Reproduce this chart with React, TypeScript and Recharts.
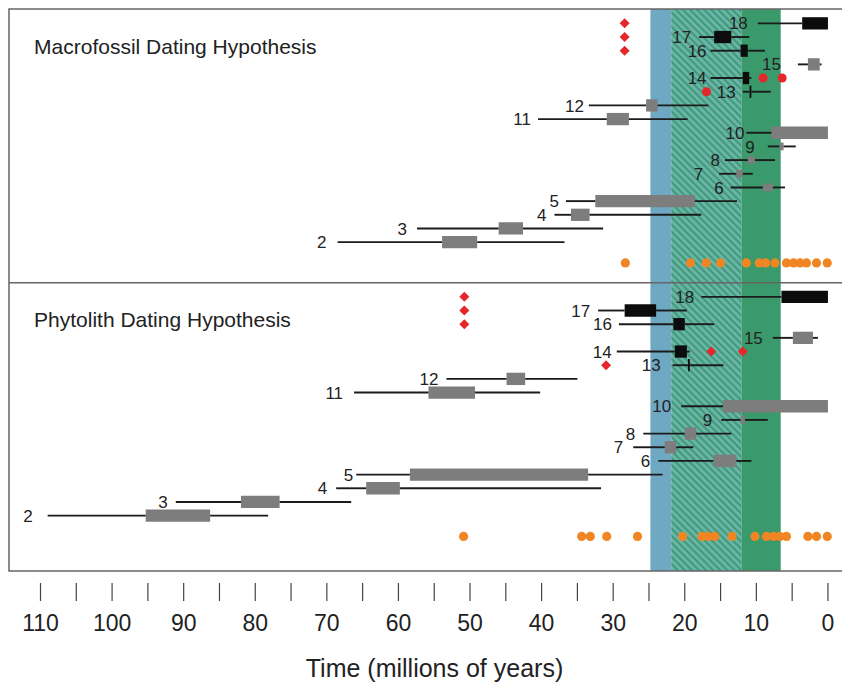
import { ComposedChart, XAxis, YAxis, Scatter, ReferenceArea, ReferenceLine } from "recharts";

// time axis runs from old (left) to present (right), in millions of years
const X_MIN = -2.8;
const X_MAX = 114.4;
const Y_MIN = -0.05;
const Y_MAX = 41.05;

const timeTicks = [0, 5, 10, 15, 20, 25, 30, 35, 40, 45, 50, 55, 60, 65, 70, 75, 80, 85, 90, 95, 100, 105, 110];
const labelledTicks = [0, 10, 20, 30, 40, 50, 60, 70, 80, 90, 100, 110];

const panelTitles = ["Macrofossil Dating Hypothesis", "Phytolith Dating Hypothesis"];

// shaded time windows [older, younger]
const blueBand = [24.8, 21.9];
const hatchBand = [21.9, 12.1];
const greenBand = [12.1, 6.6];

// [node, range older, range younger, estimate older, estimate younger, dark]
type Row = [number, number, number, number, number, boolean];

const macroRows: Row[] = [
  [18, 9.8, 0, 3.6, 0, true],
  [17, 18.0, 11.0, 15.9, 13.5, true],
  [16, 16.4, 8.8, 12.2, 11.2, true],
  [15, 4.2, 0.9, 2.8, 1.15, false],
  [14, 16.4, 10.7, 11.9, 11.0, true],
  [13, 11.9, 8.0, 10.95, 10.7, true],
  [12, 33.4, 16.7, 25.4, 23.8, false],
  [11, 40.5, 19.6, 30.9, 27.8, false],
  [10, 11.4, 0, 7.9, 0, false],
  [9, 8.4, 4.5, 6.8, 6.2, false],
  [8, 14.4, 7.4, 11.2, 10.2, false],
  [7, 15.2, 10.5, 12.8, 11.9, false],
  [6, 13.6, 6.0, 9.1, 7.7, false],
  [5, 36.6, 12.7, 32.5, 18.6, false],
  [4, 38.2, 17.7, 35.9, 33.3, false],
  [3, 57.4, 31.4, 46.0, 42.6, false],
  [2, 68.5, 36.8, 53.9, 49.0, false],
];

const phytoRows: Row[] = [
  [18, 17.7, 0, 6.5, 0, true],
  [17, 32.1, 19.7, 28.4, 24.0, true],
  [16, 29.2, 15.9, 21.6, 20.0, true],
  [15, 7.7, 1.4, 4.9, 2.1, false],
  [14, 29.5, 19.3, 21.4, 19.7, true],
  [13, 21.7, 14.6, 19.55, 19.3, true],
  [12, 53.3, 35.0, 44.9, 42.3, false],
  [11, 66.2, 40.2, 55.8, 49.3, false],
  [10, 20.5, 0, 14.65, 0, false],
  [9, 14.9, 8.4, 12.2, 11.6, false],
  [8, 25.8, 13.5, 20.0, 18.4, false],
  [7, 27.2, 18.8, 22.8, 21.2, false],
  [6, 23.7, 10.7, 16.0, 12.8, false],
  [5, 65.9, 23.1, 58.4, 33.5, false],
  [4, 68.7, 31.7, 64.5, 59.8, false],
  [3, 91.1, 66.6, 82.0, 76.6, false],
  [2, 109.0, 78.2, 95.3, 86.3, false],
];

// orange dots along the bottom of each panel
const macroOrange = [28.3, 19.2, 17.0, 15.0, 11.4, 9.6, 8.7, 7.4, 5.8, 4.8, 3.9, 3.0, 1.6, 0.1];
const phytoOrange = [50.9, 34.4, 33.2, 30.9, 26.6, 20.3, 17.6, 16.7, 15.8, 13.4, 10.2, 8.6, 7.6, 6.7, 5.8, 2.8, 1.6, 0.1];

// red markers [time, node row]
const macroDiamonds = [[28.4, 18], [28.4, 17], [28.4, 16]];
const macroRedDots = [[9.06, 14], [6.4, 14], [16.97, 13]];
const phytoDiamonds = [[50.8, 18], [50.8, 17], [50.8, 16], [16.3, 14], [11.9, 14], [31.0, 13]];

// px gap between node number and its range line
const macroGap: Record<number, number> = { 18: 10, 17: 8, 16: 4, 15: 17, 14: 4, 13: 7, 12: 5, 11: 7, 10: 2, 9: 13, 8: 5, 7: 16, 6: 7, 5: 7, 4: 8, 3: 10, 2: 11 };
const phytoGap: Record<number, number> = { 18: 7, 17: 8, 16: 7, 15: 10, 14: 5, 13: 12, 12: 8, 11: 11, 10: 10, 9: 9, 8: 8, 7: 10, 6: 8, 5: 3, 4: 9, 3: 8, 2: 15 };

const FONT = "'Liberation Sans', Arial, sans-serif";
const rowY = (panel: number, node: number) => panel * 20 + 19 - node;
const orangeY = (panel: number) => panel * 20 + 18.52;

const TimeTick = ({ x, y, payload }: any) => {
  const v = payload.value;
  return (
    <g>
      <line x1={x} x2={x} y1={y + 10} y2={y + 28} stroke="#444" strokeWidth={1.2} />
      {labelledTicks.includes(v) && (
        <text x={x} y={y + 58} textAnchor="middle" fontSize={23} fill="#222" fontFamily={FONT}>
          {v}
        </text>
      )}
    </g>
  );
};

const diamond = ({ cx, cy }: any) => (
  <polygon points={`${cx},${cy - 5} ${cx + 5},${cy} ${cx},${cy + 5} ${cx - 5},${cy}`} fill="#e5262b" />
);
const redDot = ({ cx, cy }: any) => <circle cx={cx} cy={cy} r={4.5} fill="#e5262b" />;
const orangeDot = ({ cx, cy }: any) => <circle cx={cx} cy={cy} r={4.6} fill="#ef8623" />;

const makeLabel = (gaps: Record<number, number>) => ({ cx, cy, payload }: any) => (
  <text
    x={cx - gaps[payload.node]}
    y={cy}
    dy="0.36em"
    textAnchor="end"
    fontSize={17}
    fill="#222"
    fontFamily={FONT}
  >
    {payload.node}
  </text>
);

const titleText = ({ cx, cy, payload }: any) => (
  <text x={cx} y={cy} dy="0.36em" fontSize={21} fill="#222" fontFamily={FONT}>
    {payload.title}
  </text>
);

function rowMarks(rows: Row[], panel: number) {
  const out: any[] = [];
  rows.forEach(([node, from, to, bFrom, bTo, dark]) => {
    const y = rowY(panel, node);
    const key = `${panel}-${node}`;
    out.push(
      <ReferenceLine key={`l1-${key}`} segment={[{ x: from, y }, { x: bFrom, y }]} stroke="#1b1b1b" strokeWidth={1.9} />,
      <ReferenceLine key={`l2-${key}`} segment={[{ x: bTo, y }, { x: to, y }]} stroke="#1b1b1b" strokeWidth={1.9} />
    );
    const narrow = bFrom - bTo < 1.5;
    const h = dark ? 0.45 : narrow ? 0.28 : 0.45;
    out.push(
      <ReferenceArea
        key={`b-${key}`}
        x1={bFrom}
        x2={bTo}
        y1={y - h}
        y2={y + h}
        fill={dark ? "#0c0c0c" : "#7d7d7d"}
        fillOpacity={1}
        stroke="none"
      />
    );
  });
  return out;
}

export default function App() {
  const fullY = { y1: Y_MIN, y2: Y_MAX };
  const labels = [macroRows, phytoRows].map((rows, p) =>
    rows.map(([node, from]) => ({ x: from, y: rowY(p, node), node }))
  );
  const orange = [macroOrange, phytoOrange].map((xs, p) => xs.map((x) => ({ x, y: orangeY(p) })));
  const toPts = (pts: number[][], p: number) => pts.map(([x, n]) => ({ x, y: rowY(p, n) }));
  const titles = panelTitles.map((title, p) => ({ x: 110.9, y: p * 20 + 2.68, title }));

  return (
    <div style={{ width: 842, height: 677 }}>
      <ComposedChart width={842} height={677} margin={{ top: 1, right: 2, bottom: 0, left: 1 }}>
        <defs>
          <pattern id="hatch" patternUnits="userSpaceOnUse" width={5} height={5} patternTransform="rotate(-45)">
            <rect width={5} height={5} fill="#6cb4a8" />
            <line x1={1} y1={0} x2={1} y2={5} stroke="#3e9b79" strokeWidth={2.2} />
          </pattern>
        </defs>
        <XAxis
          type="number"
          dataKey="x"
          domain={[X_MIN, X_MAX]}
          reversed
          ticks={timeTicks}
          interval={0}
          allowDataOverflow
          axisLine={false}
          tickLine={false}
          tickSize={0}
          height={114}
          tick={<TimeTick />}
          label={{
            value: "Time (millions of years)",
            position: "insideBottom",
            offset: 8,
            dx: 6,
            fontSize: 25,
            fill: "#222",
            fontFamily: FONT,
          }}
        />
        <YAxis type="number" dataKey="y" domain={[Y_MIN, Y_MAX]} reversed hide allowDataOverflow />

        <ReferenceArea x1={blueBand[0]} x2={blueBand[1]} {...fullY} fill="#6fa8c2" fillOpacity={1} stroke="none" />
        <ReferenceArea x1={hatchBand[0]} x2={hatchBand[1]} {...fullY} fill="url(#hatch)" fillOpacity={1} stroke="none" />
        <ReferenceArea x1={greenBand[0]} x2={greenBand[1]} {...fullY} fill="#3b9a6b" fillOpacity={1} stroke="none" />

        {rowMarks(macroRows, 0)}
        {rowMarks(phytoRows, 1)}

        <ReferenceLine y={19.97} stroke="#666" strokeWidth={1.5} />
        <ReferenceArea x1={X_MIN} x2={X_MAX} {...fullY} fill="none" stroke="#666" strokeWidth={1.5} />

        <Scatter data={titles} shape={titleText} isAnimationActive={false} />
        <Scatter data={orange[0]} shape={orangeDot} isAnimationActive={false} />
        <Scatter data={orange[1]} shape={orangeDot} isAnimationActive={false} />
        <Scatter data={toPts(macroDiamonds, 0)} shape={diamond} isAnimationActive={false} />
        <Scatter data={toPts(phytoDiamonds, 1)} shape={diamond} isAnimationActive={false} />
        <Scatter data={toPts(macroRedDots, 0)} shape={redDot} isAnimationActive={false} />
        <Scatter data={labels[0]} shape={makeLabel(macroGap)} isAnimationActive={false} />
        <Scatter data={labels[1]} shape={makeLabel(phytoGap)} isAnimationActive={false} />
      </ComposedChart>
    </div>
  );
}
